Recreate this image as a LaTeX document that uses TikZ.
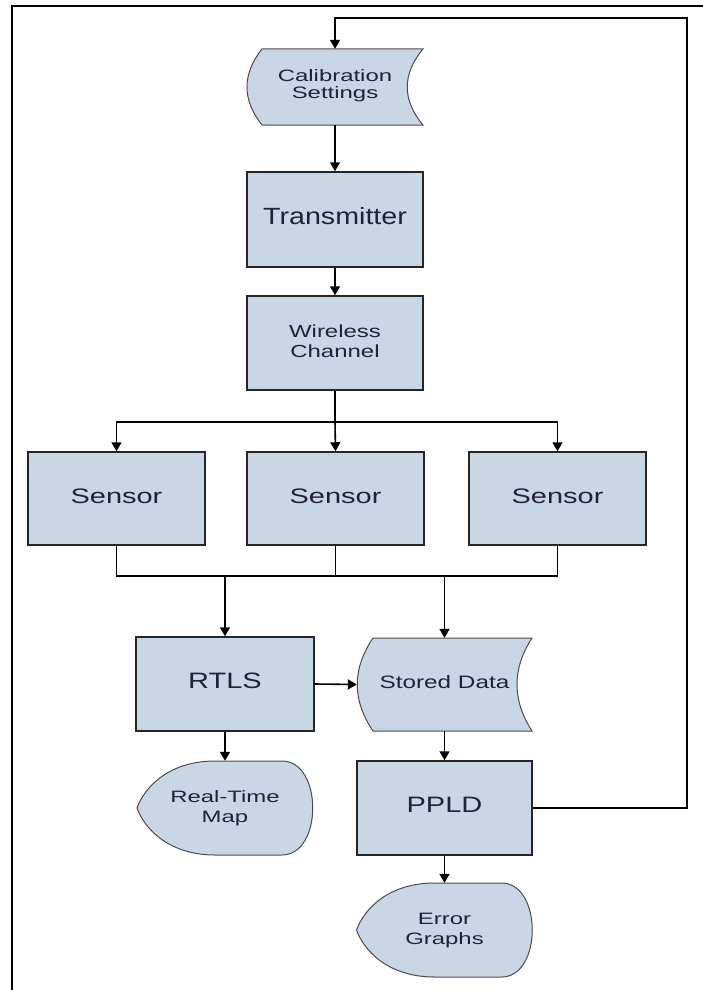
\documentclass[tikz,border=0pt]{standalone}
\usepackage{fontspec}
\usepackage{graphicx}
\setmainfont{Liberation Sans}
\usetikzlibrary{arrows.meta}

\definecolor{boxfill}{RGB}{201,214,229}
\definecolor{txt}{RGB}{32,34,58}

% label: horizontal stretch, font size, line skip, text
\newcommand\lbl[4]{{\fontsize{#2}{#3}\selectfont\color{txt}%
  \scalebox{#1}[1]{\begin{tabular}{@{}c@{}}#4\end{tabular}}}}

\begin{document}
\begin{tikzpicture}[x=1pt,y=-1pt,
  procbox/.style={draw=black!85,line width=1.5pt,fill=boxfill,inner sep=0pt},
  shapeonly/.style={draw=none,inner sep=0pt},
  shp/.style={draw=black!70,line width=1pt,fill=boxfill},
  conn/.style={line width=1.6pt,black},
  arr/.style={conn,-{Triangle[length=9pt,width=10pt]}}]

\useasboundingbox (0,0) rectangle (703,990);

% frame edges
\draw[line width=2.5pt] (11,6) -- (703,6);
\draw[line width=2.5pt] (12,6) -- (12,990);

% stored-data shapes
\draw[shp] (262,49) -- (423,49) .. controls (402,74) and (402,100) .. (423,125)
  -- (262,125) .. controls (242,100) and (242,74) .. (262,49) -- cycle;
\draw[shp] (373,638) -- (532,638) .. controls (512,669) and (512,700) .. (532,731)
  -- (373,731) .. controls (352,700) and (352,669) .. (373,638) -- cycle;

% display shapes
\draw[shp] (215,761) -- (282,761) .. controls (323,761) and (323,855) .. (282,855)
  -- (215,855) .. controls (170,855) and (145,830) .. (137,808)
  .. controls (145,786) and (170,761) .. (215,761) -- cycle;
\draw[shp] (434.5,883) -- (501.5,883) .. controls (542.5,883) and (542.5,977) .. (501.5,977)
  -- (434.5,977) .. controls (389.5,977) and (364.5,952) .. (356.5,930)
  .. controls (364.5,908) and (389.5,883) .. (434.5,883) -- cycle;

% nodes
\node[shapeonly,minimum width=176pt,minimum height=76pt] (cal) at (335,87)
  {\lbl{1.45}{16.5}{17}{Calibration\\Settings}};
\node[procbox,minimum width=176pt,minimum height=95pt] (tx) at (335,219.5)
  {\lbl{1.22}{23.5}{25}{Transmitter}};
\node[procbox,minimum width=176pt,minimum height=94pt] (wc) at (335,343)
  {\lbl{1.37}{17.5}{20}{Wireless\\Channel}};
\node[procbox,minimum width=177pt,minimum height=93pt] (s1) at (116.5,498.5)
  {\lbl{1.38}{21}{23}{Sensor}};
\node[procbox,minimum width=177pt,minimum height=93pt] (s2) at (335.5,498.5)
  {\lbl{1.38}{21}{23}{Sensor}};
\node[procbox,minimum width=177pt,minimum height=93pt] (s3) at (557.5,498.5)
  {\lbl{1.38}{21}{23}{Sensor}};
\node[procbox,minimum width=178pt,minimum height=94pt] (rtls) at (225,684)
  {\lbl{1.3}{22.3}{24}{RTLS}};
\node[shapeonly,minimum width=175pt,minimum height=93pt] (sd) at (444.5,684.5)
  {\lbl{1.35}{18}{20}{Stored Data}};
\node[shapeonly,minimum width=176pt,minimum height=94pt] (rtm) at (225,808)
  {\lbl{1.45}{16.5}{20}{Real-Time\\Map}};
\node[procbox,minimum width=175pt,minimum height=94pt] (ppld) at (444.5,808)
  {\lbl{1.3}{22.3}{24}{PPLD}};
\node[shapeonly,minimum width=176pt,minimum height=94pt] (eg) at (444.5,930)
  {\lbl{1.45}{16.5}{20}{Error\\Graphs}};

% routing points
\coordinate (split) at (335,422);
\coordinate (mrg) at (335,576);
\coordinate (fbtop) at (687,18);

% top chain
\draw[arr] (cal.south) -- (tx.north);
\draw[arr] (tx.south) -- (wc.north);

% fan-out to sensors
\draw[conn] (wc.south) -- (split);
\draw[arr] (split) -| (s1.north);
\draw[arr] (split) -| (s3.north);
\draw[arr] (split) -- (s2.north);

% merge of sensors
\draw[conn] (s1.south) -- (s1.south |- mrg) -- (s3.south |- mrg) -- (s3.south);
\draw[conn] (s2.south) -- (s2.south |- mrg);
\draw[arr] (rtls.north |- mrg) -- (rtls.north);
\draw[arr] (sd.north |- mrg) -- (sd.north);

% lower flow
\draw[arr] (rtls.east) -- (sd.west);
\draw[arr] (rtls.south) -- (rtm.north);
\draw[arr] (sd.south) -- (ppld.north);
\draw[arr] (ppld.south) -- (eg.north);

% feedback loop
\draw[arr] (ppld.east) -| (fbtop) -| (cal.north);

\end{tikzpicture}
\end{document}
